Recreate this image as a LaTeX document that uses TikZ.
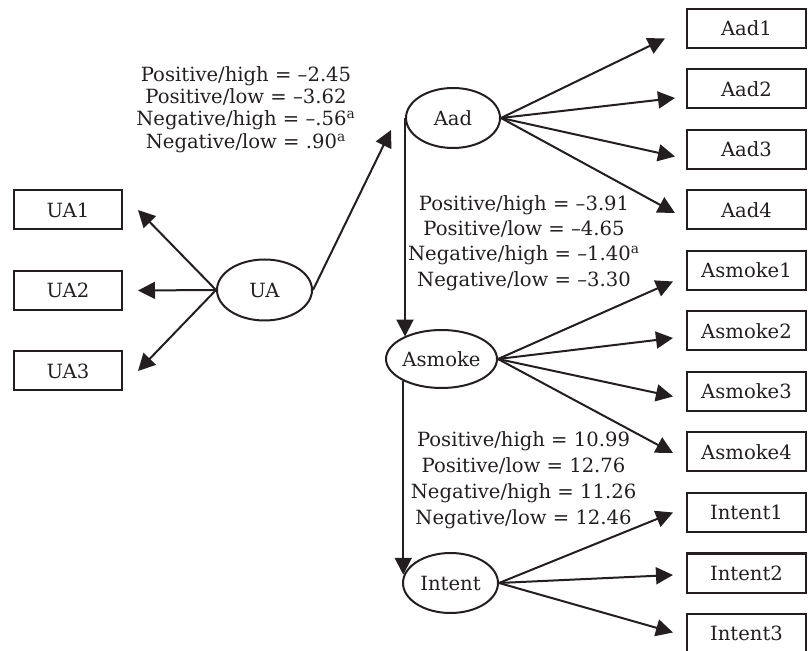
\documentclass[tikz,border=0pt]{standalone}
\usepackage{fontspec}
\setmainfont{DejaVu Serif}
\usetikzlibrary{arrows.meta,positioning,calc,shapes.geometric}
\definecolor{semink}{RGB}{35,31,32}
\newcommand{\semfont}{\fontsize{9.8pt}{11.3pt}\selectfont}
\tikzset{
  semarrow/.style={-{Triangle[length=8.5pt,width=8.5pt]}, line width=1pt, draw=semink},
  semitem/.style={
    draw=semink,
    line width=1pt,
    text=semink,
    font=\semfont,
    minimum width=54pt,
    minimum height=19.5pt,
    inner sep=0pt
  },
  semitemwide/.style={semitem, minimum width=59.5pt},
  semlatent/.style={
    ellipse,
    draw=semink,
    line width=1pt,
    text=semink,
    font=\semfont,
    inner sep=0pt
  },
  semlabel/.style={
    align=center,
    text=semink,
    font=\semfont,
    inner sep=0pt
  }
}

\begin{document}
\begin{tikzpicture}[x=0.5pt, y=-0.5pt, node distance=9.75pt]
  \useasboundingbox (0,0) rectangle (808,651);

  \node[semlatent, minimum width=47.5pt, minimum height=30.5pt] (UA) at (264.5,290) {UA};
  \node[semlatent, minimum width=47pt, minimum height=30pt] (Aad) at (453,118) {Aad};
  \node[semlatent, minimum width=55.5pt, minimum height=29pt] (Asmoke) at (441.5,359) {Asmoke};
  \node[semlatent, minimum width=47.5pt, minimum height=30pt] (Intent) at (450.5,583) {Intent};

  \node[semitem] (UA1) at (68,210) {UA1};
  \node[semitem, below=19.75pt of UA1] (UA2) {UA2};
  \node[semitem, below=19.75pt of UA2] (UA3) {UA3};

  \node[semitemwide] (Aad1) at (746.5,28.5) {Aad1};
  \node[semitemwide, below=of Aad1] (Aad2) {Aad2};
  \node[semitemwide, below=of Aad2] (Aad3) {Aad3};
  \node[semitemwide, below=of Aad3] (Aad4) {Aad4};
  \node[semitemwide, below=of Aad4] (Asmoke1) {Asmoke1};
  \node[semitemwide, below=of Asmoke1] (Asmoke2) {Asmoke2};
  \node[semitemwide, below=of Asmoke2] (Asmoke3) {Asmoke3};
  \node[semitemwide, below=of Asmoke3] (Asmoke4) {Asmoke4};
  \node[semitemwide, below=of Asmoke4] (Intent1) {Intent1};
  \node[semitemwide, below=of Intent1] (Intent2) {Intent2};
  \node[semitemwide, below=of Intent2] (Intent3) {Intent3};

  \node[semlabel, font=\fontsize{9.8pt}{11.2pt}\selectfont] (lua) at (246,109.5) {Positive/high = --2.45\\Positive/low = --3.62\\Negative/high = --.56\textsuperscript{a}\\Negative/low = .90\textsuperscript{a}};
  \node[semlabel, font=\fontsize{9.8pt}{12.6pt}\selectfont] (lad) at (524,243) {Positive/high = --3.91\\Positive/low = --4.65\\Negative/high = --1.40\textsuperscript{a}\\Negative/low = --3.30};
  \node[semlabel, font=\fontsize{9.8pt}{13pt}\selectfont] (lsm) at (523.5,480) {Positive/high = 10.99\\Positive/low = 12.76\\Negative/high = 11.26\\Negative/low = 12.46};

  \foreach \i in {1,2,3}
    \draw[semarrow] (UA.west) -- ($(UA\i.east)+(15,0)$);
  \draw[semarrow] (UA.east) -- ($(Aad.west)+(-14,12)$);
  \foreach \i/\dx/\dy in {1/-21/10, 2/-11/9, 3/-11/7, 4/-11/3}
    \draw[semarrow] (Aad.east) -- ($(Aad\i.west)+(\dx,\dy)$);
  \foreach \i/\dy in {1/11, 2/7, 3/5, 4/1}
    \draw[semarrow] (Asmoke.east) -- ($(Asmoke\i.west)+(-13,\dy)$);
  \foreach \i/\dy in {1/0, 2/2, 3/-1}
    \draw[semarrow] (Intent.east) -- ($(Intent\i.west)+(-13,\dy)$);
  \draw[semarrow] (Aad.west) -- (Aad.west |- Asmoke.149);
  \draw[semarrow] (Asmoke.210) -- (Asmoke.210 |- Intent.170);
\end{tikzpicture}
\end{document}
